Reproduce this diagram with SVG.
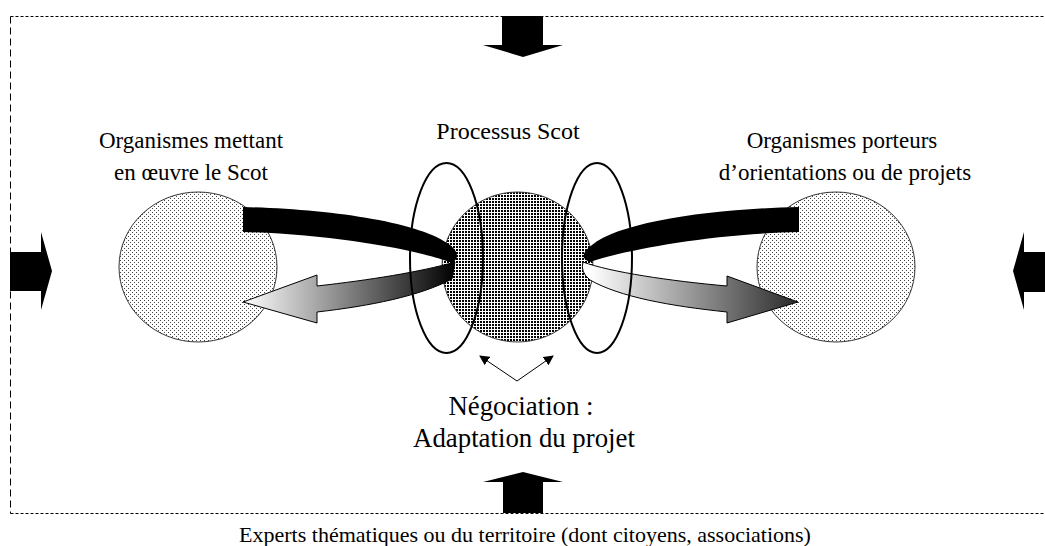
<svg xmlns="http://www.w3.org/2000/svg" width="1045" height="546" viewBox="0 0 1045 546">
  <style>
    .lbl { font-family: "Liberation Serif", "Times New Roman", serif; font-size: 23px; fill: #000; text-anchor: middle; }
    .big { font-size: 26.8px; }
    .fat { fill: #000; stroke: none; }
    .ring { fill: none; stroke: #000; stroke-width: 2; }
    .thin { fill: none; stroke: #000; stroke-width: 1; marker-end: url(#tip); }
  </style>
  <defs>
    <pattern id="dots" width="4" height="4" patternUnits="userSpaceOnUse">
      <rect width="4" height="4" fill="#fff"/>
      <rect x="0" y="0" width="1" height="1" fill="#444"/>
      <rect x="2" y="2" width="1" height="1" fill="#444"/>
    </pattern>
    <pattern id="checks" width="3" height="3" patternUnits="userSpaceOnUse">
      <rect width="3" height="3" fill="#fff"/>
      <rect x="0" y="0" width="2" height="2" fill="#000"/>
    </pattern>
    <linearGradient id="gl" gradientUnits="userSpaceOnUse" x1="243" y1="0" x2="455" y2="0">
      <stop offset="0" stop-color="#ffffff"/>
      <stop offset="1" stop-color="#000000"/>
    </linearGradient>
    <linearGradient id="gr" gradientUnits="userSpaceOnUse" x1="590" y1="0" x2="798" y2="0">
      <stop offset="0" stop-color="#ffffff"/>
      <stop offset="1" stop-color="#2a2a2a"/>
    </linearGradient>
    <marker id="tip" viewBox="0 0 10 10" refX="9" refY="5" markerWidth="10" markerHeight="10" markerUnits="userSpaceOnUse" orient="auto">
      <path d="M0,0 L10,5 L0,10 Z" fill="#000"/>
    </marker>
  </defs>

  <g id="frame">
    <line x1="10.5" y1="16.5" x2="1045" y2="16.5" stroke="#000" stroke-width="1" stroke-dasharray="3,2"/>
    <line x1="10.5" y1="16.5" x2="10.5" y2="513.5" stroke="#000" stroke-width="1" stroke-dasharray="7,4"/>
    <line x1="10.5" y1="513.5" x2="1045" y2="513.5" stroke="#000" stroke-width="1" stroke-dasharray="3,2"/>
  </g>

  <g id="input-top"><path class="fat" d="M502,16 L543,16 L543,45 L563,45 L523,57 L483,45 L502,45 Z"/></g>
  <g id="input-bottom"><path class="fat" d="M503,513 L543,513 L543,482 L563,482 L523,472 L483,482 L503,482 Z"/></g>
  <g id="input-left"><path class="fat" d="M10,252 L41,252 L41,232 L52,271 L41,310 L41,291 L10,291 Z"/></g>
  <g id="input-right"><path class="fat" d="M1045,252 L1024,252 L1024,232 L1013,271 L1024,310 L1024,292 L1045,292 Z"/></g>

  <g id="org-left">
    <ellipse cx="198" cy="267" rx="79" ry="75" fill="url(#dots)" stroke="#333" stroke-width="1"/>
    <text class="lbl" x="191" y="148">Organismes mettant</text>
    <text class="lbl" x="191" y="180">en œuvre le Scot</text>
  </g>

  <g id="org-right">
    <ellipse cx="836" cy="267" rx="79" ry="75" fill="url(#dots)" stroke="#333" stroke-width="1"/>
    <text class="lbl" x="842" y="148">Organismes porteurs</text>
    <text class="lbl" x="845" y="180">d’orientations ou de projets</text>
  </g>

  <g id="scot">
    <ellipse cx="517.5" cy="267" rx="75.5" ry="75" fill="url(#checks)" stroke="#333" stroke-width="1"/>
    <text class="lbl" x="508" y="139" style="font-size:24px">Processus Scot</text>
  </g>

  <g id="connectors">
    <path class="fat" d="M243,207 C330,209 420,222 450,245 Q463,256 452,263 C420,250 330,234 243,232 Z"/>
    <path fill="url(#gl)" stroke="#000" stroke-width="1" d="M455,262 C420,272 370,280 317,286 L317,275 L243,302 L317,323 L317,312 C370,306 420,296 452,279 Z"/>
    <path class="fat" d="M799,207 C710,209 620,222 592,245 Q576,257 590,262 C625,250 710,234 799,232 Z"/>
    <path fill="url(#gr)" stroke="#000" stroke-width="1" d="M583,262 C610,272 670,281 727,286 L727,276 L798,302 L727,323 L727,312 C670,306 620,297 590,280 Q580,272 583,262 Z"/>
    <line class="thin" x1="517" y1="381" x2="480" y2="356"/>
    <line class="thin" x1="517" y1="381" x2="553" y2="356"/>
  </g>

  <g id="negociation">
    <ellipse class="ring" cx="446.5" cy="258" rx="36.5" ry="95"/>
    <ellipse class="ring" cx="597" cy="258" rx="35" ry="95"/>
    <text class="lbl big" x="521" y="415">Négociation :</text>
    <text class="lbl big" x="524" y="447">Adaptation du projet</text>
  </g>

  <g id="experts">
    <text class="lbl" x="525" y="542" style="font-size:22px">Experts thématiques ou du territoire (dont citoyens, associations)</text>
  </g>
</svg>
